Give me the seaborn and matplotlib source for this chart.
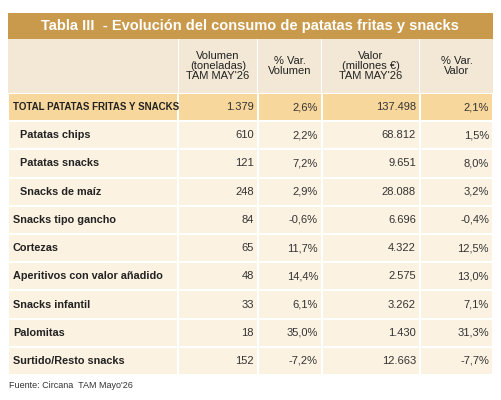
import matplotlib
matplotlib.use("Agg")
import matplotlib.pyplot as plt
from matplotlib.colors import ListedColormap
from matplotlib.patches import Rectangle
import numpy as np
import seaborn as sns

categories = ["TOTAL PATATAS FRITAS Y SNACKS", "Patatas chips", "Patatas snacks", "Snacks de maíz",
              "Snacks tipo gancho", "Cortezas", "Aperitivos con valor añadido", "Snacks infantil",
              "Palomitas", "Surtido/Resto snacks"]
indent = [0, 1, 1, 1, 0, 0, 0, 0, 0, 0]
volumen = ["1.379", "610", "121", "248", "84", "65", "48", "33", "18", "152"]
var_vol = ["2,6%", "2,2%", "7,2%", "2,9%", "-0,6%", "11,7%", "14,4%", "6,1%", "35,0%", "-7,2%"]
valor = ["137.498", "68.812", "9.651", "28.088", "6.696", "4.322", "2.575", "3.262", "1.430", "12.663"]
var_val = ["2,1%", "1,5%", "8,0%", "3,2%", "-0,4%", "12,5%", "13,0%", "7,1%", "31,3%", "-7,7%"]
headers = ["Volumen\n(toneladas)\nTAM MAY'26", "% Var.\nVolumen", "Valor\n(millones €)\nTAM MAY'26", "% Var.\nValor"]
title = "Tabla III  - Evolución del consumo de patatas fritas y snacks"
source = "Fuente: Circana  TAM Mayo'26"

sns.set_style("white")
plt.rcParams['font.family'] = ['Liberation Sans', 'DejaVu Sans']
W, H = 502, 400
fig = plt.figure(figsize=(5.02, 4.0), dpi=100)
colx = [8, 178, 258, 322, 420, 493]
def fx(x): return x / W
def fy(y): return 1 - y / H

fig.patches.append(Rectangle((fx(8), fy(39)), fx(485), 26 / H, transform=fig.transFigure,
                             facecolor="#c99a4c", edgecolor="none"))
fig.text(fx(250), fy(26), title, ha="center", va="center", color="white", fontsize=10.5, fontweight="bold")
fig.patches.append(Rectangle((fx(8), fy(93)), fx(485), 54 / H, transform=fig.transFigure,
                             facecolor="#f2e8d5", edgecolor="none"))
for i in range(1, 5):
    fig.patches.append(Rectangle((fx(colx[i] - 0.5), fy(93)), 1 / W, 54 / H, transform=fig.transFigure,
                                 facecolor="white", edgecolor="none"))
    fig.text(fx((colx[i] + colx[i + 1]) / 2), fy(66), headers[i - 1], ha="center", va="center",
             fontsize=8, color="#222222", linespacing=1.0)

n = len(categories)
ax = fig.add_axes([fx(8), fy(375), fx(485), (375 - 93) / H])
kind = np.array([[1 if r == 0 else 0] * 5 for r in range(n)])
cmap = ListedColormap(["#fbf2e2", "#f8d79d"])
sns.heatmap(kind, ax=ax, cmap=cmap, cbar=False, xticklabels=False, yticklabels=False, vmin=0, vmax=1)
ax.clear()
xe = np.array(colx, dtype=float)
ye = np.arange(n + 1, dtype=float)
ax.pcolormesh(xe, ye, kind, cmap=cmap, vmin=0, vmax=1, edgecolors="white", linewidth=1.2)
ax.set_xlim(8, 493)
ax.set_ylim(n, 0)
ax.axis("off")
for r in range(n):
    y = r + 0.5
    ax.text(13 + 7 * indent[r], y, categories[r], ha="left", va="center", fontsize=7 if r == 0 else 7.8,
            color="#222222", fontweight="bold")
    for j, vals in enumerate([volumen, var_vol, valor, var_val]):
        ax.text(colx[j + 2] - 4, y, vals[r], ha="right", va="center", fontsize=8, color="#333333")

fig.text(fx(9), fy(385), source, ha="left", va="center", fontsize=6.5, color="#333333")
fig.savefig("out.png", dpi=100, facecolor="white")
